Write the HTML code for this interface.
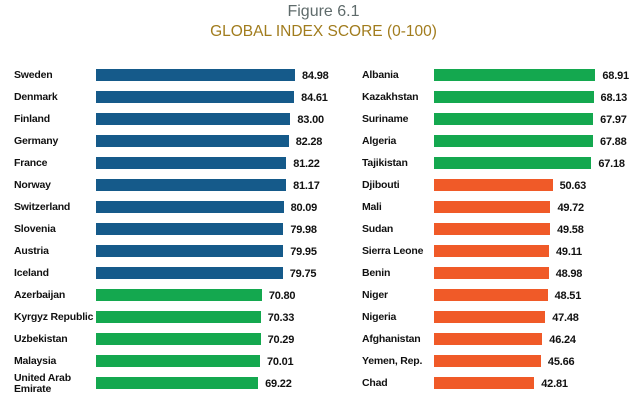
<!DOCTYPE html>
<html><head><meta charset="utf-8"><style>
body{margin:0;width:643px;height:415px;background:#fff;position:relative;overflow:hidden;font-family:"Liberation Sans",sans-serif}
.t{position:absolute;left:0;width:643px;text-align:center}
.l{position:absolute;font-size:10.5px;font-weight:bold;color:#111;line-height:11px;letter-spacing:-0.2px}
.b{position:absolute;height:12px}
.v{position:absolute;font-size:11px;font-weight:bold;color:#111;line-height:12px;letter-spacing:-0.2px}
</style></head><body>
<div class="t" style="top:3px;font-size:16px;color:#5f6b6b;left:2px">Figure 6.1</div>
<div class="t" style="top:23px;font-size:15.5px;color:#a17c1d;left:2px">GLOBAL INDEX SCORE (0-100)</div>
<div id="c"></div>
<script>
const L=[["Sweden",84.98,0],["Denmark",84.61,0],["Finland",83.00,0],["Germany",82.28,0],["France",81.22,0],["Norway",81.17,0],["Switzerland",80.09,0],["Slovenia",79.98,0],["Austria",79.95,0],["Iceland",79.75,0],["Azerbaijan",70.80,1],["Kyrgyz Republic",70.33,1],["Uzbekistan",70.29,1],["Malaysia",70.01,1],["United Arab<br>Emirate",69.22,1]];
const R=[["Albania",68.91,1],["Kazakhstan",68.13,1],["Suriname",67.97,1],["Algeria",67.88,1],["Tajikistan",67.18,1],["Djibouti",50.63,2],["Mali",49.72,2],["Sudan",49.58,2],["Sierra Leone",49.11,2],["Benin",48.98,2],["Niger",48.51,2],["Nigeria",47.48,2],["Afghanistan",46.24,2],["Yemen, Rep.",45.66,2],["Chad",42.81,2]];
const col=["#155a8a","#14a84f","#f05a28"];let h="";
function draw(a,lx,bx){a.forEach((r,i)=>{const cy=75+i*22;const w=r[1]*2.342;
const two=r[0].includes("<br>");
h+=`<div class="l" style="left:${lx}px;top:${two?cy-10:cy-5}px">${r[0]}</div>`;
h+=`<div class="b" style="left:${bx}px;top:${cy-6}px;width:${w}px;background:${col[r[2]]}"></div>`;
h+=`<div class="v" style="left:${bx+w+7}px;top:${cy-5}px">${r[1].toFixed(2)}</div>`;});}
draw(L,14,96);draw(R,362,434);
document.getElementById("c").innerHTML=h;
</script>
</body></html>
